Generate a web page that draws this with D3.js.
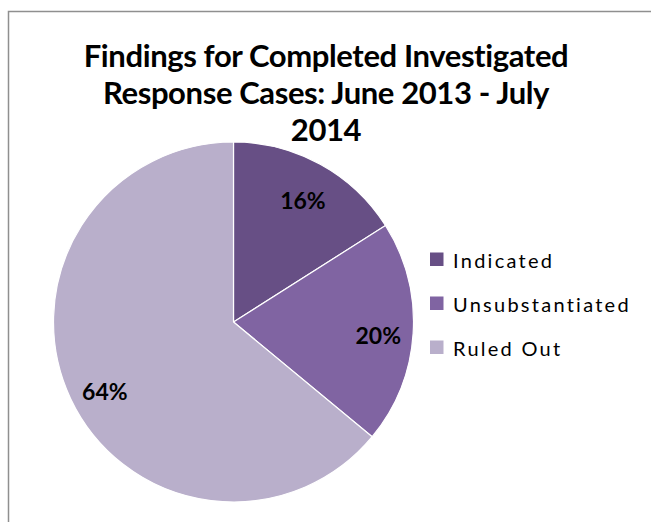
<!DOCTYPE html>
<html>
<head>
<meta charset="utf-8">
<script src="https://cdn.jsdelivr.net/npm/d3@7/dist/d3.min.js"></script>
<style>
  html, body { margin: 0; padding: 0; background: #fff; }
  svg { display: block; }
</style>
</head>
<body>
<svg id="chart" width="651" height="522"></svg>
<script>
// ---- data ----
const categories = ["Indicated", "Unsubstantiated", "Ruled Out"];
const values = [16, 20, 64];
const colors = ["#674f85", "#8064a2", "#b9afcb"];
const titleLines = ["Findings for Completed Investigated", "Response Cases: June 2013 - July", "2014"];

// ---- layout ----
const W = 651, H = 522;
const svg = d3.select("#chart");
const font = "Lato, 'Open Sans', sans-serif";

// frame
svg.append("rect")
  .attr("x", 8.5).attr("y", 11.5)
  .attr("width", W + 20).attr("height", H + 20)
  .attr("fill", "#fff")
  .attr("stroke", "#8f8f8f").attr("stroke-width", 1.5);

// title
const title = svg.append("g").attr("font-family", font).attr("font-weight", "bold").attr("fill", "#000");
const titleCx = 326, titleBase = [67, 104, 141];
const tSizeBase = 26;
const tmp = title.append("text").attr("font-size", tSizeBase).attr("letter-spacing", -0.4).text(titleLines[0]);
const tScale = 482 / tmp.node().getComputedTextLength();
tmp.remove();
titleLines.forEach((t, i) => {
  title.append("text")
    .attr("x", titleCx).attr("y", titleBase[i])
    .attr("text-anchor", "middle")
    .attr("font-size", tSizeBase * tScale)
    .attr("letter-spacing", -0.4)
    .text(t);
});

// pie
const cx = 233.5, cy = 322, r = 180;
const pie = d3.pie().sort(null).value(d => d)(values);
const arc = d3.arc().innerRadius(0).outerRadius(r);
const labelArc = d3.arc().innerRadius(140).outerRadius(140);
const g = svg.append("g").attr("transform", `translate(${cx},${cy})`);
g.selectAll("path").data(pie).enter().append("path")
  .attr("d", arc)
  .attr("fill", (d, i) => colors[i])
  .attr("stroke", "#fff").attr("stroke-width", 1.2);

const total = d3.sum(values);
const labelOffsets = [[2, 1], [5, 4], [-2, 9]];
g.selectAll("text.lbl").data(pie).enter().append("text")
  .attr("class", "lbl")
  .attr("font-family", font).attr("font-weight", "bold")
  .attr("font-size", 23)
  .attr("text-anchor", "middle")
  .attr("dominant-baseline", "central")
  .attr("fill", "#000")
  .attr("transform", (d, i) => {
    const c = labelArc.centroid(d);
    return `translate(${c[0] + labelOffsets[i][0]},${c[1] + labelOffsets[i][1]})`;
  })
  .text(d => Math.round(d.data / total * 100) + "%");

// legend
const legend = svg.append("g").attr("font-family", font);
const legY = [259, 303, 347];
const legSize = 20;
const probe = legend.append("text").attr("font-size", legSize).text(categories[1]);
const natW = probe.node().getComputedTextLength();
probe.remove();
const ls = (176 - natW) / (categories[1].length - 1);
categories.forEach((c, i) => {
  legend.append("rect")
    .attr("x", 430).attr("y", legY[i] - 6.5)
    .attr("width", 13.5).attr("height", 13.5)
    .attr("fill", colors[i]);
  legend.append("text")
    .attr("x", 453).attr("y", legY[i] + 9)
    .attr("font-size", legSize)
    .attr("letter-spacing", ls)
    .attr("fill", "#000")
    .text(c);
});
</script>
</body>
</html>
